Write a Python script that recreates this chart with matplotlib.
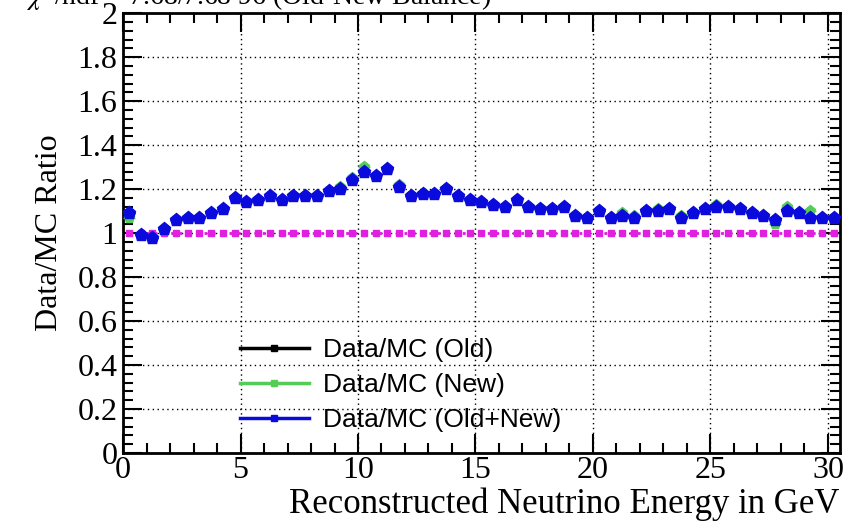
import numpy as np
import matplotlib
matplotlib.use("Agg")
import matplotlib.pyplot as plt
from matplotlib.ticker import MultipleLocator
from matplotlib.lines import Line2D

# bin centres (GeV) and ratios
energy = np.arange(0.25, 30.5, 0.5)
ratio_both = [1.09, 0.99, 0.98, 1.02, 1.06, 1.07, 1.07, 1.09, 1.11, 1.16,
              1.14, 1.15, 1.17, 1.15, 1.17, 1.17, 1.17, 1.19, 1.20, 1.24,
              1.28, 1.26, 1.29, 1.21, 1.17, 1.18, 1.18, 1.20, 1.17, 1.15,
              1.14, 1.13, 1.12, 1.15, 1.12, 1.11, 1.11, 1.12, 1.08, 1.07,
              1.10, 1.07, 1.08, 1.07, 1.10, 1.10, 1.11, 1.07, 1.09, 1.11,
              1.12, 1.12, 1.11, 1.09, 1.08, 1.06, 1.10, 1.09, 1.07, 1.07,
              1.07]
ratio_old = [1.09, 0.99, 0.98, 1.02, 1.06, 1.07, 1.07, 1.09, 1.11, 1.16,
             1.14, 1.15, 1.17, 1.15, 1.17, 1.17, 1.17, 1.19, 1.20, 1.24,
             1.28, 1.26, 1.29, 1.21, 1.17, 1.18, 1.18, 1.20, 1.17, 1.15,
             1.14, 1.13, 1.12, 1.15, 1.12, 1.11, 1.11, 1.12, 1.08, 1.07,
             1.10, 1.07, 1.08, 1.07, 1.10, 1.10, 1.11, 1.07, 1.09, 1.11,
             1.12, 1.12, 1.11, 1.09, 1.08, 1.06, 1.10, 1.09, 1.07, 1.07,
             1.07]
ratio_new = [1.07, 0.99, 0.98, 1.02, 1.06, 1.07, 1.07, 1.09, 1.11, 1.16,
             1.14, 1.15, 1.17, 1.15, 1.17, 1.17, 1.17, 1.19, 1.21, 1.25,
             1.30, 1.26, 1.29, 1.22, 1.17, 1.18, 1.18, 1.20, 1.17, 1.15,
             1.14, 1.13, 1.12, 1.15, 1.12, 1.11, 1.11, 1.12, 1.08, 1.07,
             1.10, 1.07, 1.09, 1.08, 1.10, 1.11, 1.11, 1.08, 1.09, 1.11,
             1.13, 1.12, 1.11, 1.09, 1.08, 1.04, 1.12, 1.09, 1.10, 1.07,
             1.07]
unity = [1.0] * len(energy)
labels = ["Data/MC (Old)", "Data/MC (New)", "Data/MC (Old+New)"]
colors = ["black", "#55cc55", "#0a0adc"]

plt.rcParams["font.family"] = ["Liberation Serif", "DejaVu Serif"]
plt.rcParams["mathtext.fontset"] = "stix"

fig = plt.figure(figsize=(8.56, 5.28), dpi=100)
ax = fig.add_axes([0.1437, 0.142, 0.8373, 0.833])

ax.grid(True, which="major", color="black", linestyle=(0, (1, 2.5)), linewidth=1.0)
ax.set_axisbelow(True)

ax.plot(energy, unity, color="#e020e0", linestyle=(0, (1, 2)), linewidth=2,
        marker="s", markersize=4, zorder=2)

series = [ratio_old, ratio_new, ratio_both]
sizes = [8, 8, 9.5]
for vals, col, ms, z in zip(series, colors, sizes, [3, 4, 5]):
    ax.errorbar(energy, vals, xerr=0.25, color=col, marker="p", markersize=ms,
                linestyle="none", elinewidth=1, zorder=z)

ax.set_xlim(0, 30.5)
ax.set_ylim(0, 2)
ax.xaxis.set_major_locator(MultipleLocator(5))
ax.xaxis.set_minor_locator(MultipleLocator(1))
ax.yaxis.set_major_locator(MultipleLocator(0.2))
ax.yaxis.set_minor_locator(MultipleLocator(0.04))
ax.yaxis.set_major_formatter(plt.FuncFormatter(lambda v, p: f"{v:g}"))
ax.tick_params(which="both", direction="in", top=True, right=True,
               labelsize=23, width=1.5, pad=2)
ax.tick_params(which="major", length=14)
ax.tick_params(which="minor", length=7)
ax.tick_params(axis="y", pad=4)
for s in ax.spines.values():
    s.set_linewidth(2)

ax.set_xlabel("Reconstructed Neutrino Energy in GeV", fontsize=25, loc="right",
              labelpad=2)
ax.set_ylabel("Data/MC Ratio", fontsize=23, labelpad=10)

handles = [Line2D([], [], color=c, marker="s", markersize=5, linewidth=2.5)
           for c in colors]
ax.legend(handles, labels, loc="lower left", bbox_to_anchor=(0.145, 0.018),
          frameon=False, prop={"family": "Liberation Sans", "size": 19},
          handlelength=2.6, handletextpad=0.55, labelspacing=0.42,
          borderpad=0)

fig.text(0.03, 0.99, r"$\chi^2$/ndf = 7.68/7.68 96 (Old-New Balance)",
         fontsize=20, va="baseline", ha="left")

fig.savefig("out.png", dpi=100)
